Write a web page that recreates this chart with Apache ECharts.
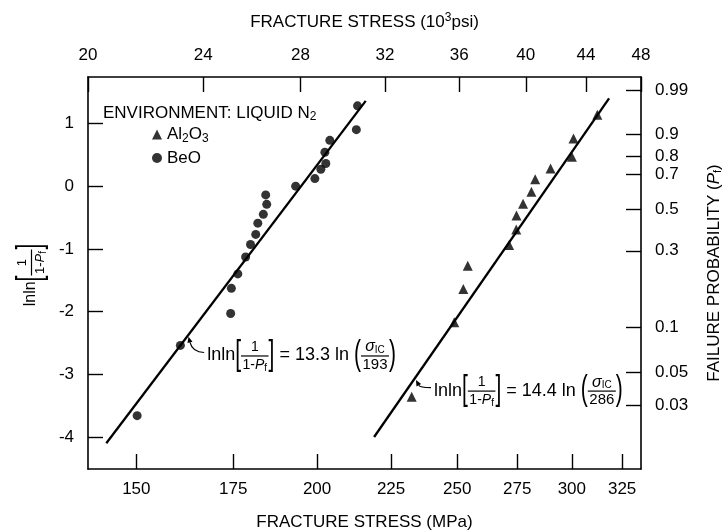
<!DOCTYPE html>
<html><head><meta charset="utf-8">
<script src="https://cdn.jsdelivr.net/npm/echarts@6/dist/echarts.min.js"></script>
<style>html,body{margin:0;padding:0;background:#fff}#c{width:728px;height:531px}</style>
</head><body><div id="c"></div>
<script>
// ---- data ----
const beoStress = [150.2,160.9,174.3,174.5,176.3,178.5,179.9,181.4,182.0,183.6,184.6,184.3,193.3,199.3,201.2,202.8,202.5,204.1,212.9,213.3];
const beoLnLn   = [-3.66,-2.54,-2.03,-1.63,-1.40,-1.13,-0.93,-0.77,-0.59,-0.45,-0.29,-0.14,0.00,0.12,0.27,0.36,0.54,0.73,0.90,1.28];
const al2o3Stress = [232.5,248.8,252.4,254.2,271.5,274.6,274.7,277.6,281.3,283.0,290.0,300.0,300.8,312.4];
const al2o3LnLn   = [-3.36,-2.17,-1.64,-1.27,-0.94,-0.69,-0.47,-0.28,-0.09,0.11,0.28,0.47,0.76,1.14];
const beoFitStress = [143.0, 216.1];
const beoFitLnLn   = [-4.10, 1.36];
const al2o3FitStress = [219.0, 318.3];
const al2o3FitLnLn   = [-4.00, 1.40];
const mpaTicks = [150,175,200,225,250,275,300,325];
const ksiTicks = [20,24,28,32,36,40,44,48];
const lnlnTicks = [-4,-3,-2,-1,0,1];
const probTicks = [0.03,0.05,0.1,0.3,0.5,0.7,0.8,0.9,0.99];
const probLabels = ['0.03','0.05','0.1','0.3','0.5','0.7','0.8','0.9','0.99'];
const eqSlope = ['13.3','14.4'];
const eqScale = ['193','286'];
const annStress = [167.9, 240.9];
const annLnLn   = [-2.70, -3.26];
const tipStress = [163.0, 234.1];
const tipLnLn   = [-2.40, -3.09];

// ---- helpers ----
const FONT = "'Liberation Sans', Arial, sans-serif";
const KSI = 6.894757;
const lnlnOfP = p => Math.log(Math.log(1/(1-p)));
const probVals = probTicks.map(lnlnOfP);
const ksiVals = ksiTicks.map(k => k*KSI);
const yMin = -4.51, yMax = 1.74;

const cctx = document.createElement('canvas').getContext('2d');
function tw(s, size, italic){ cctx.font = (italic?'italic ':'') + size + 'px ' + FONT; return cctx.measureText(s).width; }
function measure(parts){ return parts.reduce((w,p)=> w + tw(p.t,p.size,p.italic), 0); }
function rowEls(parts, x, y){
  const els=[]; let cx=x;
  for (const p of parts){
    els.push({type:'text', x:cx, y:y+(p.dy||0), scaleY:p.sy||1,
      style:{text:p.t, fontSize:p.size, fontFamily:FONT, fontStyle:p.italic?'italic':'normal', fill:'#000', align:'left', verticalAlign:'middle'}});
    cx += tw(p.t,p.size,p.italic);
  }
  return {els, w:cx-x};
}
function buildEq(pieces){
  let x=0; const els=[];
  for (const pc of pieces){
    if (pc.kind==='row'){ const r=rowEls(pc.parts,x,0); els.push(...r.els); x+=r.w; }
    else if (pc.kind==='br'){ const r=rowEls([{t:pc.t,size:pc.size||20,sy:pc.sy||1.7}],x,0); els.push(...r.els); x+=r.w; }
    else if (pc.kind==='frac'){
      const wn=measure(pc.num), wd=measure(pc.den); const w=Math.max(wn,wd)+3;
      els.push(...rowEls(pc.num, x+(w-wn)/2, -8.5).els);
      els.push(...rowEls(pc.den, x+(w-wd)/2, 9.5).els);
      els.push({type:'line', shape:{x1:x,y1:0.5,x2:x+w,y2:0.5}, style:{stroke:'#000', lineWidth:1.2}});
      x+=w;
    }
  }
  return {els, w:x};
}
function lhsPieces(sz, fs){
  return [
    {kind:'row', parts:[{t:'lnln', size:sz}]},
    {kind:'br', t:'[', size:21},
    {kind:'frac', num:[{t:'1', size:fs}], den:[{t:'1-', size:fs},{t:'P', size:fs, italic:true},{t:'f', size:10, dy:3}]},
    {kind:'br', t:']', size:21}
  ];
}
function eqPieces(slope, scale){
  return lhsPieces(18, 14).concat([
    {kind:'row', parts:[{t:' = '+slope+' ln ', size:18}]},
    {kind:'br', t:'(', size:21},
    {kind:'frac', num:[{t:'σ', size:16, italic:true},{t:'IC', size:10, dy:3}], den:[{t:scale, size:15}]},
    {kind:'br', t:')', size:21}
  ]);
}

const axisBase = (extra) => Object.assign({
  axisLine:{show:true, onZero:false, lineStyle:{color:'#000', width:1.6}},
  axisTick:{show:true, inside:true, length:15, lineStyle:{color:'#000', width:1.4}},
  splitLine:{show:false},
  minorTick:{show:false},
  nameTextStyle:{color:'#000', fontSize:17, fontFamily:FONT}
}, extra);

const chart = echarts.init(document.getElementById('c'));
const leftTitle = buildEq(lhsPieces(16, 13));

chart.setOption({
  animation:false,
  backgroundColor:'#fff',
  title:{
    text:'{n|ENVIRONMENT: LIQUID N}{s|2}', left:103, top:103, padding:0,
    textStyle:{rich:{n:{fontSize:17, fontFamily:FONT, color:'#000', fontWeight:'normal'}, s:{fontSize:12, fontFamily:FONT, color:'#000', fontWeight:'normal', padding:[8,0,0,0]}}}
  },
  legend:{
    orient:'vertical', left:152, top:126, itemWidth:10, itemHeight:10, itemGap:5, padding:0,
    data:[{name:'Al2O3', icon:'triangle'},{name:'BeO', icon:'circle'}],
    formatter: n => n==='Al2O3' ? '{n|Al}{s|2}{n|O}{s|3}' : '{n|BeO}',
    textStyle:{rich:{n:{fontSize:17, fontFamily:FONT, color:'#000'}, s:{fontSize:12, fontFamily:FONT, color:'#000', padding:[8,0,0,0]}}}
  },
  grid:{left:88, right:87, top:77, bottom:62, outerBoundsMode:'none', containLabel:false},
  xAxis:[
    axisBase({type:'log', position:'bottom', min:138.9, max:334.9,
      axisTick:{show:true, inside:true, length:15, customValues:mpaTicks, lineStyle:{color:'#000', width:1.4}},
      axisLabel:{customValues:mpaTicks, color:'#000', fontSize:17, fontFamily:FONT, margin:12, formatter:v=>String(Math.round(v))},
      name:'FRACTURE STRESS (MPa)', nameLocation:'middle', nameGap:45}),
    axisBase({type:'log', position:'top', min:ksiVals[0]*0.9999, max:ksiVals[ksiVals.length-1]*1.0001,
      axisTick:{show:true, inside:true, length:15, customValues:ksiVals, lineStyle:{color:'#000', width:1.4}},
      axisLabel:{customValues:ksiVals, color:'#000', fontSize:17, fontFamily:FONT, margin:13, formatter:v=>String(Math.round(v/KSI))},
      name:'FRACTURE STRESS (10{p|3}psi)', nameLocation:'middle', nameGap:44,
      nameTextStyle:{color:'#000', fontSize:17, fontFamily:FONT, rich:{p:{fontSize:12, fontFamily:FONT, color:'#000', padding:[0,0,9,0]}}}})
  ],
  yAxis:[
    axisBase({type:'value', position:'left', min:yMin, max:yMax,
      axisTick:{show:true, inside:true, length:15, customValues:lnlnTicks, lineStyle:{color:'#000', width:1.4}},
      axisLabel:{customValues:lnlnTicks, color:'#000', fontSize:17, fontFamily:FONT, margin:14, formatter:v=>String(Math.round(v))}}),
    axisBase({type:'value', position:'right', min:yMin, max:yMax,
      axisTick:{show:true, inside:true, length:15, customValues:probVals, lineStyle:{color:'#000', width:1.4}},
      axisLabel:{customValues:probVals, color:'#000', fontSize:17, fontFamily:FONT, margin:14,
        formatter:v=>{ let b=0; probVals.forEach((p,i)=>{ if(Math.abs(p-v)<Math.abs(probVals[b]-v)) b=i; }); return probLabels[b]; }},
      name:'{n|FAILURE PROBABILITY (}{i|P}{s|f}{n|)}', nameLocation:'middle', nameGap:64, nameRotate:90,
      nameTextStyle:{rich:{n:{fontSize:17, fontFamily:FONT, color:'#000'}, i:{fontSize:17, fontFamily:FONT, fontStyle:'italic', color:'#000'}, s:{fontSize:11, fontFamily:FONT, color:'#000', padding:[7,0,0,0]}}}})
  ],
  graphic:[{
    type:'group', x:31, y:275 + leftTitle.w/2, rotation:Math.PI/2,
    children:leftTitle.els
  }],
  series:[
    {name:'BeO fit', type:'line', xAxisIndex:0, yAxisIndex:0, symbol:'none', silent:true,
      lineStyle:{color:'#000', width:2.3}, data:beoFitStress.map((s,i)=>[s, beoFitLnLn[i]])},
    {name:'Al2O3 fit', type:'line', xAxisIndex:0, yAxisIndex:0, symbol:'none', silent:true,
      lineStyle:{color:'#000', width:2.3}, data:al2o3FitStress.map((s,i)=>[s, al2o3FitLnLn[i]])},
    {name:'BeO', type:'scatter', xAxisIndex:0, yAxisIndex:0, symbol:'circle', symbolSize:9,
      itemStyle:{color:'#000'}, data:beoStress.map((s,i)=>[s, beoLnLn[i]])},
    {name:'Al2O3', type:'scatter', xAxisIndex:0, yAxisIndex:0, symbol:'triangle', symbolSize:10,
      itemStyle:{color:'#000'}, data:al2o3Stress.map((s,i)=>[s, al2o3LnLn[i]])},
    {name:'equations', type:'custom', xAxisIndex:0, yAxisIndex:0, silent:true, clip:false,
      data:annStress.map((s,i)=>[s, annLnLn[i], tipStress[i], tipLnLn[i]]),
      renderItem:(params, api)=>{
        const i = params.dataIndex;
        const a = api.coord([api.value(0), api.value(1)]);
        const t = api.coord([api.value(2), api.value(3)]);
        const eq = buildEq(eqPieces(eqSlope[i], eqScale[i]));
        const sx = a[0]-3, sy = a[1]-3;
        const cx = t[0]+4, cy = sy;
        const dx = t[0]-cx, dy = t[1]-cy, L = Math.hypot(dx,dy)||1;
        const ux = dx/L, uy = dy/L, hl = 6, hw = 2.6;
        const bx = t[0]-ux*hl, by = t[1]-uy*hl;
        return {type:'group', children:[
          {type:'group', x:a[0], y:a[1], children:eq.els},
          {type:'path', shape:{pathData:`M${sx} ${sy} Q${cx} ${cy} ${bx} ${by}`}, style:{stroke:'#000', fill:null, lineWidth:1.2}},
          {type:'polygon', shape:{points:[[t[0],t[1]],[bx-uy*hw, by+ux*hw],[bx+uy*hw, by-ux*hw]]}, style:{fill:'#000'}}
        ]};
      }}
  ]
});
</script>
</body></html>
